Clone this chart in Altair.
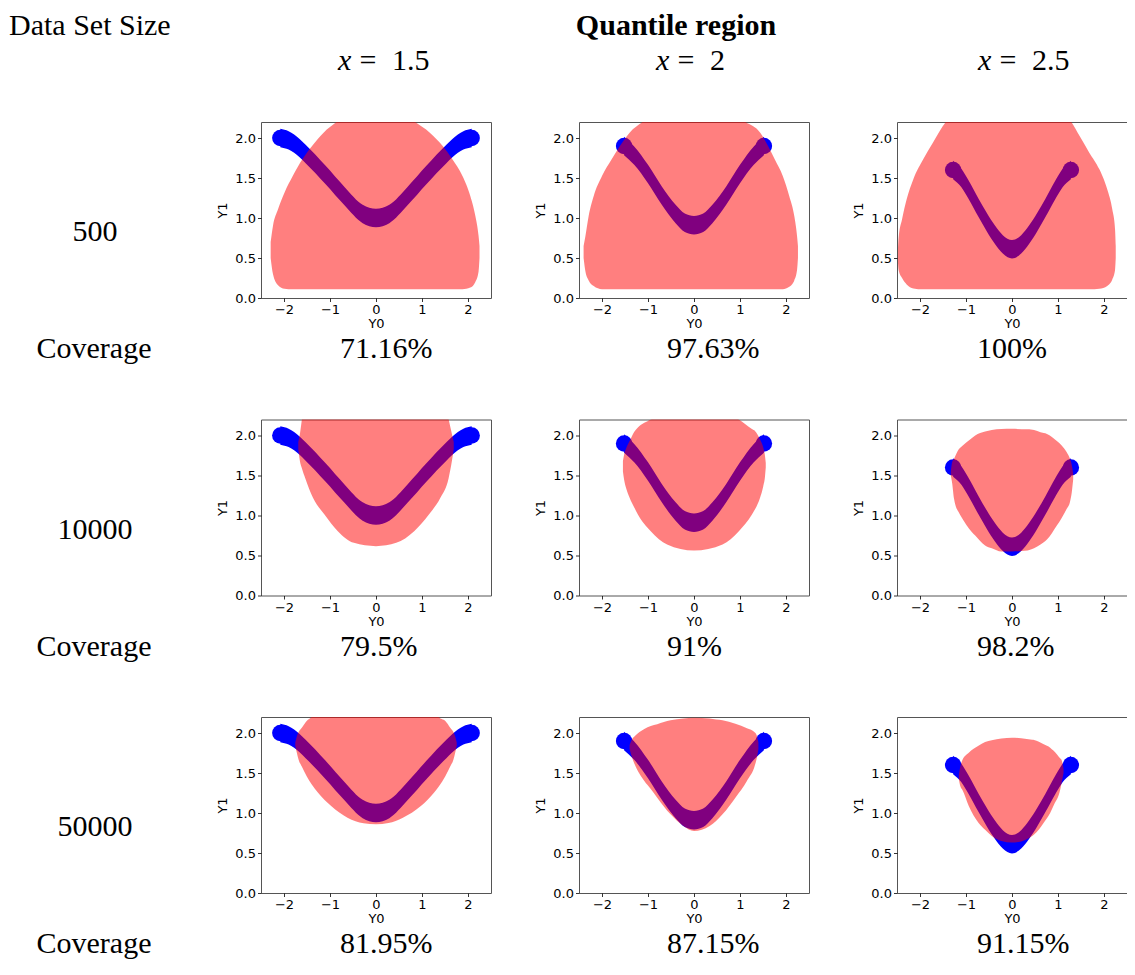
import altair as alt
import pandas as pd

# ---------------- data ----------------
X_TICKS = [-2, -1, 0, 1, 2]
Y_TICKS = [0.0, 0.5, 1.0, 1.5, 2.0]
DATA_SIZES = ["500", "10000", "50000"]
X_VALUES = ["1.5", "2", "2.5"]
COVERAGE_ROW1 = ["71.16%", "97.63%", "100%"]
COVERAGE_ROW2 = ["79.5%", "91%", "98.2%"]
COVERAGE_ROW3 = ["81.95%", "87.15%", "91.15%"]

# centre line of the blue band (true curve), one per column
C1_Y0 = [-2.08, -1.9, -1.78, -1.53, -1.1, -0.68, -0.29, 0.0, 0.29, 0.68, 1.1, 1.53, 1.78, 1.9, 2.08]
C1_Y1 = [2.0, 1.97, 1.93, 1.8, 1.54, 1.27, 1.05, 1.0, 1.05, 1.27, 1.54, 1.8, 1.93, 1.97, 2.0]
C2_Y0 = [-1.52, -1.3, -1.0, -0.7, -0.4, -0.2, 0.0, 0.2, 0.4, 0.7, 1.0, 1.3, 1.52]
C2_Y1 = [1.9, 1.78, 1.55, 1.28, 1.05, 0.94, 0.91, 0.94, 1.05, 1.28, 1.55, 1.78, 1.9]
C3_Y0 = [-1.28, -1.1, -0.94, -0.73, -0.55, -0.37, -0.2, 0.0, 0.2, 0.37, 0.55, 0.73, 0.94, 1.1, 1.28]
C3_Y1 = [1.6, 1.5, 1.35, 1.13, 0.95, 0.79, 0.67, 0.61, 0.67, 0.79, 0.95, 1.13, 1.35, 1.5, 1.6]

# red quantile regions: Y0, lower edge, upper edge
R11_Y0 = [-2.29, -2.24, -2.13, -1.99, -1.81, -1.6, -1.39, -1.14, -0.86, -0.5, 0.0, 0.5, 0.85, 1.17, 1.45, 1.66, 1.88, 2.05, 2.16, 2.23, 2.25]
R11_LO = [0.5, 0.3, 0.16, 0.115, 0.108, 0.108, 0.108, 0.108, 0.108, 0.108, 0.108, 0.108, 0.108, 0.108, 0.108, 0.108, 0.11, 0.13, 0.2, 0.33, 0.5]
R11_HI = [0.7, 0.9, 1.108, 1.317, 1.525, 1.733, 1.9, 2.067, 2.2, 2.33, 2.4, 2.33, 2.2, 2.067, 1.9, 1.733, 1.525, 1.275, 1.025, 0.775, 0.65]

R12_Y0 = [-2.4, -2.36, -2.29, -2.18, -2.0, -1.79, -1.61, -1.4, -1.12, -0.6, 0.0, 0.6, 1.12, 1.44, 1.61, 1.755, 1.93, 2.07, 2.18, 2.24, 2.26]
R12_LO = [0.5, 0.33, 0.22, 0.15, 0.11, 0.108, 0.108, 0.108, 0.108, 0.108, 0.108, 0.108, 0.108, 0.108, 0.108, 0.108, 0.11, 0.14, 0.22, 0.35, 0.5]
R12_HI = [0.65, 0.775, 1.025, 1.275, 1.525, 1.733, 1.9, 2.067, 2.2, 2.38, 2.45, 2.38, 2.2, 2.067, 1.9, 1.733, 1.525, 1.275, 1.025, 0.775, 0.65]

R13_Y0 = [-2.48, -2.465, -2.39, -2.29, -2.145, -1.93, -1.72, -1.44, -0.8, 0.0, 0.8, 1.29, 1.47, 1.68, 1.9, 2.07, 2.18, 2.24, 2.255]
R13_LO = [0.45, 0.35, 0.25, 0.17, 0.12, 0.108, 0.108, 0.108, 0.108, 0.108, 0.108, 0.108, 0.108, 0.108, 0.115, 0.15, 0.23, 0.35, 0.5]
R13_HI = [0.6, 0.75, 0.983, 1.233, 1.483, 1.733, 1.942, 2.2, 2.45, 2.55, 2.45, 2.2, 2.025, 1.817, 1.608, 1.358, 1.108, 0.858, 0.65]

R21_Y0 = [-1.69, -1.66, -1.6, -1.54, -1.37, -1.12, -0.83, -0.48, 0.0, 0.44, 0.83, 1.15, 1.4, 1.58, 1.65, 1.69]
R21_LO = [1.83, 1.7, 1.57, 1.47, 1.221, 1.0125, 0.804, 0.658, 0.617, 0.658, 0.804, 1.0125, 1.221, 1.47, 1.68, 1.83]
R21_HI = [1.92, 2.0, 2.25, 2.5, 2.6, 2.6, 2.6, 2.6, 2.6, 2.6, 2.6, 2.6, 2.6, 2.2, 2.02, 1.92]

R22_Y0 = [-1.545, -1.52, -1.47, -1.4, -1.29, -1.22, -0.94, -0.585, 0.0, 0.62, 0.975, 1.26, 1.33, 1.436, 1.507, 1.54, 1.56]
R22_LO = [1.55, 1.45, 1.33, 1.221, 1.09, 1.0125, 0.804, 0.6375, 0.5625, 0.6375, 0.804, 1.0125, 1.08, 1.221, 1.37, 1.47, 1.6]
R22_HI = [1.68, 1.76, 1.846, 1.93, 2.054, 2.1, 2.2, 2.3, 2.35, 2.3, 2.2, 2.08, 2.054, 1.95, 1.846, 1.76, 1.66]

R23_Y0 = [-1.33, -1.3, -1.26, -1.15, -1.12, -0.87, -0.8, -0.585, -0.44, -0.23, 0.0, 0.34, 0.41, 0.69, 0.76, 0.975, 1.08, 1.19, 1.26, 1.3, 1.33]
R23_LO = [1.5, 1.4, 1.21, 1.03, 1.0, 0.792, 0.75, 0.625, 0.59, 0.55, 0.55, 0.5625, 0.575, 0.667, 0.7, 0.875, 0.97, 1.083, 1.17, 1.29, 1.45]
R23_HI = [1.55, 1.67, 1.71, 1.833, 1.85, 1.97, 2.0, 2.05, 2.07, 2.08, 2.083, 2.078, 2.075, 2.03, 2.02, 1.93, 1.875, 1.79, 1.708, 1.63, 1.52]

R31_Y0 = [-1.755, -1.72, -1.684, -1.613, -1.507, -1.4, -1.26, -0.975, -0.62, -0.27, 0.0, 0.27, 0.585, 0.975, 1.26, 1.365, 1.507, 1.613, 1.684, 1.72, 1.755]
R31_LO = [1.84, 1.75, 1.67, 1.58, 1.46, 1.36, 1.254, 1.0875, 0.942, 0.871, 0.858, 0.875, 0.942, 1.0875, 1.254, 1.33, 1.46, 1.58, 1.67, 1.75, 1.84]
R31_HI = [1.88, 1.96, 2.01, 2.067, 2.15, 2.2, 2.3, 2.4, 2.45, 2.48, 2.5, 2.48, 2.45, 2.4, 2.3, 2.2, 2.15, 2.067, 2.01, 1.96, 1.88]

R32_Y0 = [-1.4, -1.35, -1.29, -1.08, -0.94, -0.8, -0.51, -0.23, 0.0, 0.34, 0.48, 0.62, 0.9, 1.15, 1.33, 1.37, 1.4]
R32_LO = [1.8, 1.7, 1.608, 1.4, 1.3, 1.192, 0.983, 0.8375, 0.775, 0.8375, 0.9, 0.983, 1.192, 1.4, 1.608, 1.7, 1.8]
R32_HI = [1.85, 1.92, 1.96, 2.05, 2.0875, 2.11, 2.158, 2.18, 2.19, 2.18, 2.17, 2.16, 2.117, 2.06, 2.004, 1.96, 1.88]

R33_Y0 = [-1.155, -1.12, -1.08, -0.94, -0.73, -0.585, -0.44, -0.23, 0.0, 0.2, 0.44, 0.48, 0.69, 0.83, 0.9, 1.05, 1.08, 1.12]
R33_LO = [1.42, 1.33, 1.29, 1.0875, 0.879, 0.79, 0.7125, 0.65, 0.63, 0.645, 0.7125, 0.73, 0.879, 1.0, 1.0875, 1.296, 1.38, 1.5]
R33_HI = [1.48, 1.59, 1.66, 1.754, 1.84, 1.8875, 1.91, 1.93, 1.942, 1.935, 1.915, 1.9125, 1.86, 1.817, 1.78, 1.68, 1.66, 1.55]

CURVES = [(C1_Y0, C1_Y1), (C2_Y0, C2_Y1), (C3_Y0, C3_Y1)]
REGIONS = [
    [(R11_Y0, R11_LO, R11_HI), (R12_Y0, R12_LO, R12_HI), (R13_Y0, R13_LO, R13_HI)],
    [(R21_Y0, R21_LO, R21_HI), (R22_Y0, R22_LO, R22_HI), (R23_Y0, R23_LO, R23_HI)],
    [(R31_Y0, R31_LO, R31_HI), (R32_Y0, R32_LO, R32_HI), (R33_Y0, R33_LO, R33_HI)],
]
COVERAGES = [COVERAGE_ROW1, COVERAGE_ROW2, COVERAGE_ROW3]

# ---------------- layout / style ----------------
PW, PH = 230, 176
COL_GAP, ROW_GAP = 88, 121.5
SVG_W, SVG_H = 1119, 952
ORIGIN_X, ORIGIN_Y = 253, 114          # position of the first plot area inside the svg
SERIF = "Liberation Serif"
FS = 30
BAND_HALF = 0.115   # half vertical thickness of the scatter band (style)

xscale = alt.Scale(domain=[-2.5, 2.5], nice=False, zero=False)
yscale = alt.Scale(domain=[0, 2.2], nice=False, zero=False)
xaxis = alt.Axis(values=X_TICKS, format="d", title="Y0")
yaxis = alt.Axis(values=Y_TICKS, format=".1f", title="Y1")


def text(s, x, y, align="left", size=FS, weight="normal", style="normal"):
    return alt.Chart(pd.DataFrame({"t": [s]})).mark_text(
        align=align, baseline="alphabetic", font=SERIF, fontSize=size,
        fontWeight=weight, fontStyle=style, color="black",
    ).encode(text="t:N", x=alt.value(x), y=alt.value(y))


COV_X = [79, 88, 80]
COV_Y = 236
XLAB_X = [77, 77, 81]
TOP_Y = -87


def panel(r, c):
    cy0, cy1 = CURVES[c]
    ry0, rlo, rhi = REGIONS[r][c]
    curve = pd.DataFrame({"Y0": cy0, "Y1": cy1})
    ends = pd.DataFrame({"Y0": [cy0[0], cy0[-1]], "Y1": [cy1[0], cy1[-1]]})
    region = pd.DataFrame({"Y0": ry0, "lo": rlo, "hi": rhi})
    band = alt.Chart(curve).transform_calculate(
        blo=f"datum.Y1 - {BAND_HALF}", bhi=f"datum.Y1 + {BAND_HALF}"
    ).mark_area(color="#0000ff", opacity=1, interpolate="monotone", clip=True).encode(
        x=alt.X("Y0:Q", scale=xscale, axis=xaxis),
        y=alt.Y("blo:Q", scale=yscale, axis=yaxis),
        y2="bhi:Q",
    )
    caps = alt.Chart(ends).mark_circle(color="#0000ff", opacity=1, size=270, clip=True).encode(
        x=alt.X("Y0:Q", scale=xscale, axis=xaxis),
        y=alt.Y("Y1:Q", scale=yscale, axis=yaxis),
    )
    area = alt.Chart(region).mark_area(
        color="#ff0000", opacity=0.5, interpolate="monotone", clip=True,
    ).encode(
        x=alt.X("Y0:Q", scale=xscale, axis=xaxis),
        y=alt.Y("lo:Q", scale=yscale, axis=yaxis),
        y2="hi:Q",
    )
    layers = [band, caps, area]
    layers.append(text(COVERAGES[r][c], COV_X[c], COV_Y))
    if r == 0:
        xl = XLAB_X[c]
        layers.append(text("x", xl, -52, style="italic"))
        layers.append(text("=", xl + 30, -52, align="center"))
        layers.append(text(X_VALUES[c], xl + 54, -52))
    if c == 0:
        layers.append(text(DATA_SIZES[r], -166, 119, align="center"))
        layers.append(text("Coverage", -167, COV_Y, align="center"))
    if r == 0 and c == 0:
        layers.append(text("Data Set Size", -252, TOP_Y))
    if r == 0 and c == 1:
        layers.append(text("Quantile region", 97, TOP_Y, align="center", weight="bold"))
    return alt.layer(*layers).properties(width=PW, height=PH)


panels = [panel(r, c) for r in range(3) for c in range(3)]

chart = alt.concat(
    *panels, columns=3, spacing={"row": ROW_GAP, "column": COL_GAP}, bounds="flush"
).properties(
    autosize=alt.AutoSizeParams(type="none"),
    padding={"top": ORIGIN_Y, "left": ORIGIN_X,
             "right": SVG_W - ORIGIN_X, "bottom": SVG_H - ORIGIN_Y},
).configure_view(
    stroke="#555555", strokeWidth=1
).configure_axis(
    labelFont="DejaVu Sans", labelFontSize=13, labelColor="black",
    titleFont="DejaVu Sans", titleFontSize=13, titleFontWeight="normal", titleColor="black",
    tickColor="black", tickSize=3.5, tickWidth=0.8, domain=False, grid=False, labelPadding=2,
).configure_axisX(titlePadding=1).configure_axisY(titlePadding=5)

chart.save("out.html", embed_options={"renderer": "svg", "actions": False})
